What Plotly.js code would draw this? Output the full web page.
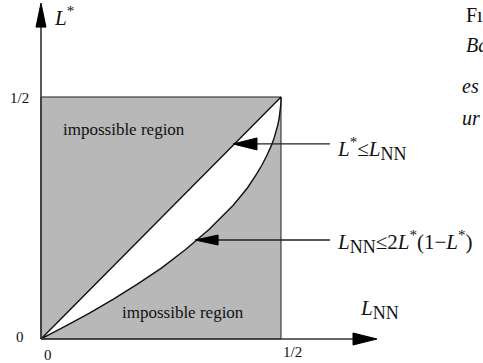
<!DOCTYPE html>
<html>
<head>
<meta charset="utf-8">
<script src="https://cdn.plot.ly/plotly-3.0.1.min.js"></script>
<style>html,body{margin:0;padding:0;background:#fff;}#chart{width:483px;height:363px;}</style>
</head>
<body>
<div id="chart"></div>
<script>
// L_NN values (horizontal) and the lower bound of L*
var lnnGrid  = [0, 0.05, 0.10, 0.15, 0.20, 0.25, 0.30, 0.35, 0.40, 0.43, 0.45, 0.46, 0.47, 0.475, 0.48, 0.485, 0.49, 0.493, 0.496, 0.498, 0.4995, 0.5];
var lstarLow = [0, 0.026, 0.053, 0.082, 0.113, 0.146, 0.184, 0.226, 0.276, 0.312, 0.342, 0.359, 0.378, 0.388, 0.400, 0.413, 0.429, 0.441, 0.455, 0.468, 0.484, 0.5];
// region square bounds
var squareX = [0, 0.5, 0.5, 0, 0];
var squareY = [0, 0, 0.5, 0.5, 0];
// tick labels
var tickLabelsX = ["0", "1/2"];
var tickValsX = [0, 0.5];
var tickLabelsY = ["0", "1/2"];
var tickValsY = [0, 0.5];
var regionLabels = ["impossible region", "impossible region"];
var SUB = function (s) { return "<sub><span style=\"font-size:18px\">" + s + "</span></sub>"; };
var SUP = "<sup><span style=\"font-size:15px\">*</span></sup>";
var boundLabels = ["<i>L</i>" + SUP + "≤<i>L</i>" + SUB("NN"),
                   "<i>L</i>" + SUB("NN") + "≤2<i>L</i>" + SUP + "(1−<i>L</i>" + SUP + ")"];
var sideText = ["Fı", "<i>Ba</i>", "<i>es</i>", "<i>ur</i>"];

// lens: up along diagonal L*=L_NN, back along lower curve
var lensX = lnnGrid.concat(lnnGrid.slice().reverse());
var lensY = lnnGrid.concat(lstarLow.slice().reverse());

var FONT = "Liberation Serif";

var traces = [
  {x: squareX, y: squareY, mode: "lines", fill: "toself", fillcolor: "#b8b8b8",
   line: {color: "#222", width: 1}, hoverinfo: "skip", showlegend: false},
  {x: lensX, y: lensY, mode: "lines", fill: "toself", fillcolor: "#ffffff",
   line: {color: "#111", width: 1.4}, hoverinfo: "skip", showlegend: false}
];

var ann = [];
function txt(x, y, t, size, xanchor) {
  ann.push({x: x, y: y, xref: "x", yref: "y", text: t, showarrow: false,
            xanchor: xanchor || "center", yanchor: "middle",
            font: {family: FONT, size: size, color: "#111"}});
}
// tick labels
txt(-0.044, tickValsY[1] - 0.002, tickLabelsY[1], 15);
txt(-0.044, tickValsY[0] + 0.004, tickLabelsY[0], 15);
txt(tickValsX[0] + 0.015, -0.033, tickLabelsX[0], 15);
txt(tickValsX[1] + 0.023, -0.027, tickLabelsX[1], 15);
// axis titles
txt(0.023, 0.667, "<i>L</i>" + SUP, 21, "left");
txt(0.660, 0.060, "<i>L</i>" + SUB("NN"), 21, "left");
// region labels
txt(0.173, 0.432, regionLabels[0], 17);
txt(0.296, 0.054, regionLabels[1], 17);
// bound labels
txt(0.612, 0.392, boundLabels[0], 21, "left");
txt(0.612, 0.200, boundLabels[1], 21, "left");
// side text fragments from the facing page
txt(0.882, 0.669, sideText[0], 20, "left");
txt(0.882, 0.607, sideText[1], 20, "left");
txt(0.872, 0.523, sideText[2], 20, "left");
txt(0.872, 0.457, sideText[3], 20, "left");

var shapes = [];
// axis lines
shapes.push({type: "line", xref: "x", yref: "y", x0: 0, y0: 0, x1: 0, y1: 0.66, line: {color: "#333", width: 1.6}});
shapes.push({type: "line", xref: "x", yref: "y", x0: 0, y0: 0, x1: 0.66, y1: 0, line: {color: "#333", width: 1.6}});
// pointer lines
shapes.push({type: "line", xref: "x", yref: "y", x0: 0.42, y0: 0.403, x1: 0.602, y1: 0.403, line: {color: "#222", width: 1.3}});
shapes.push({type: "line", xref: "x", yref: "y", x0: 0.34, y0: 0.2045, x1: 0.602, y1: 0.2045, line: {color: "#222", width: 1.3}});
function head(ax, ay, path) {
  shapes.push({type: "path", xref: "x", yref: "y", xsizemode: "pixel", ysizemode: "pixel",
               xanchor: ax, yanchor: ay, path: path, fillcolor: "#000", line: {color: "#000", width: 1}});
}
head(0, 0.694, "M0,0 L-5,-24 L5,-24 Z");
head(0.700, 0, "M0,0 L-24,6 L-24,-6 Z");
head(0.400, 0.403, "M0,0 L24,6 L24,-6 Z");
head(0.321, 0.2045, "M0,0 L23,5 L23,-5 Z");

var layout = {
  width: 483, height: 363,
  margin: {l: 0, r: 0, t: 0, b: 0},
  paper_bgcolor: "#fff", plot_bgcolor: "#fff",
  font: {family: FONT},
  xaxis: {range: [-0.0854, 0.9208], visible: false, fixedrange: true},
  yaxis: {range: [-0.0496, 0.7004], visible: false, fixedrange: true},
  annotations: ann,
  shapes: shapes,
  showlegend: false
};
Plotly.newPlot("chart", traces, layout, {staticPlot: true});
</script>
</body>
</html>
